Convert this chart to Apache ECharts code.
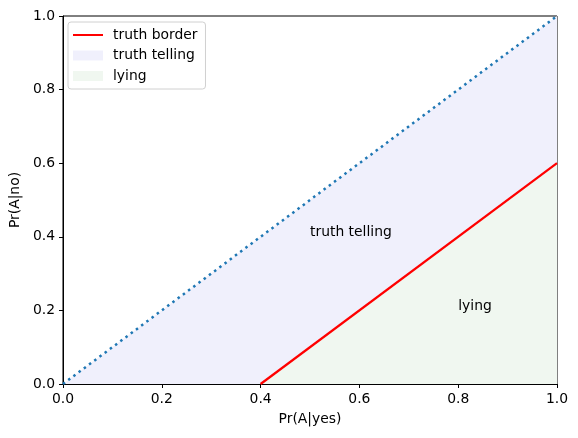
<!DOCTYPE html>
<html>
<head>
<meta charset="utf-8">
<script src="https://cdn.jsdelivr.net/npm/echarts@6/dist/echarts.min.js"></script>
<style>
  html, body { margin: 0; padding: 0; background: #fff; }
  #chart { width: 578px; height: 438px; }
</style>
</head>
<body>
<div id="chart"></div>
<script>
// diagonal Pr(A|no) = Pr(A|yes)
const diagonal = [[0, 0], [1, 1]];
// truth border line
const border = [[0.4, 0], [1, 0.6]];
// lying region lower edge (same as border, flat before 0.4)
const lyingEdge = [[0, 0], [0.4, 0], [1, 0.6]];
const ticks = [0, 0.2, 0.4, 0.6, 0.8, 1.0];
const notes = [
  { text: 'truth telling', pos: [0.5, 0.4] },
  { text: 'lying', pos: [0.8, 0.2] },
];

const font = 'DejaVu Sans';
const fs = 13.9;
const lavender = '#f0f0fc';
const green = '#f0f7f0';

const chart = echarts.init(document.getElementById('chart'));

const axisCommon = {
  type: 'value',
  min: 0,
  max: 1,
  interval: 0.2,
  axisLine: { show: true, onZero: false, lineStyle: { color: '#000', width: 1 } },
  axisTick: { show: true, length: 4, lineStyle: { color: '#000' } },
  axisLabel: {
    color: '#000', fontFamily: font, fontSize: fs,
    formatter: (v) => v.toFixed(1),
  },
  splitLine: { show: false },
  nameLocation: 'middle',
  nameTextStyle: { color: '#000', fontFamily: font, fontSize: fs },
};

chart.setOption({
  animation: false,
  backgroundColor: '#fff',
  grid: {
    left: 62, right: 21, top: 16, bottom: 54,
    show: true, borderColor: '#000', borderWidth: 1,
  },
  legend: {
    orient: 'vertical',
    left: 68, top: 22,
    padding: [6, 8, 6, 5],
    itemGap: 6.5,
    itemWidth: 30,
    itemHeight: 15,
    borderColor: '#d0d0d0',
    borderWidth: 1,
    borderRadius: 3,
    backgroundColor: 'rgba(255,255,255,0.8)',
    textStyle: { color: '#000', fontFamily: font, fontSize: fs, padding: [0, 0, 0, 5] },
    data: [
      { name: 'truth border', icon: 'path://M0,6.5 L30,6.5 L30,8.5 L0,8.5 Z' },
      { name: 'truth telling', icon: 'path://M0,2.5 L30,2.5 L30,12.5 L0,12.5 Z' },
      { name: 'lying', icon: 'path://M0,2.5 L30,2.5 L30,12.5 L0,12.5 Z' },
    ],
  },
  xAxis: Object.assign({}, axisCommon, { name: 'Pr(A|yes)', nameGap: 28 }),
  yAxis: Object.assign({}, axisCommon, { name: 'Pr(A|no)', nameGap: 35 }),
  series: [
    {
      name: 'truth telling',
      type: 'line',
      data: diagonal,
      symbol: 'none',
      lineStyle: { width: 0, opacity: 0 },
      itemStyle: { color: lavender },
      areaStyle: { color: lavender, opacity: 1, origin: 'start' },
      z: 1,
    },
    {
      name: 'lying',
      type: 'line',
      data: lyingEdge,
      symbol: 'none',
      lineStyle: { width: 0, opacity: 0 },
      itemStyle: { color: green },
      areaStyle: { color: green, opacity: 1, origin: 'start' },
      z: 2,
    },
    {
      type: 'line',
      data: diagonal,
      symbol: 'none',
      lineStyle: { color: '#1f77b4', width: 2.5, type: [2.5, 4], cap: 'butt' },
      z: 3,
    },
    {
      name: 'truth border',
      type: 'line',
      data: border,
      symbol: 'none',
      itemStyle: { color: '#ff0000' },
      lineStyle: { color: '#ff0000', width: 2.2 },
      z: 4,
    },
    {
      type: 'scatter',
      symbolSize: 0,
      itemStyle: { opacity: 1 },
      data: notes.map((n) => ({ value: n.pos, label: { formatter: n.text } })),
      label: {
        show: true,
        position: 'inside',
        align: 'left',
        verticalAlign: 'bottom',
        offset: [0, 3],
        color: '#000',
        opacity: 1,
        fontFamily: font,
        fontSize: fs,
      },
      silent: true,
      z: 5,
    },
  ],
});
</script>
</body>
</html>
